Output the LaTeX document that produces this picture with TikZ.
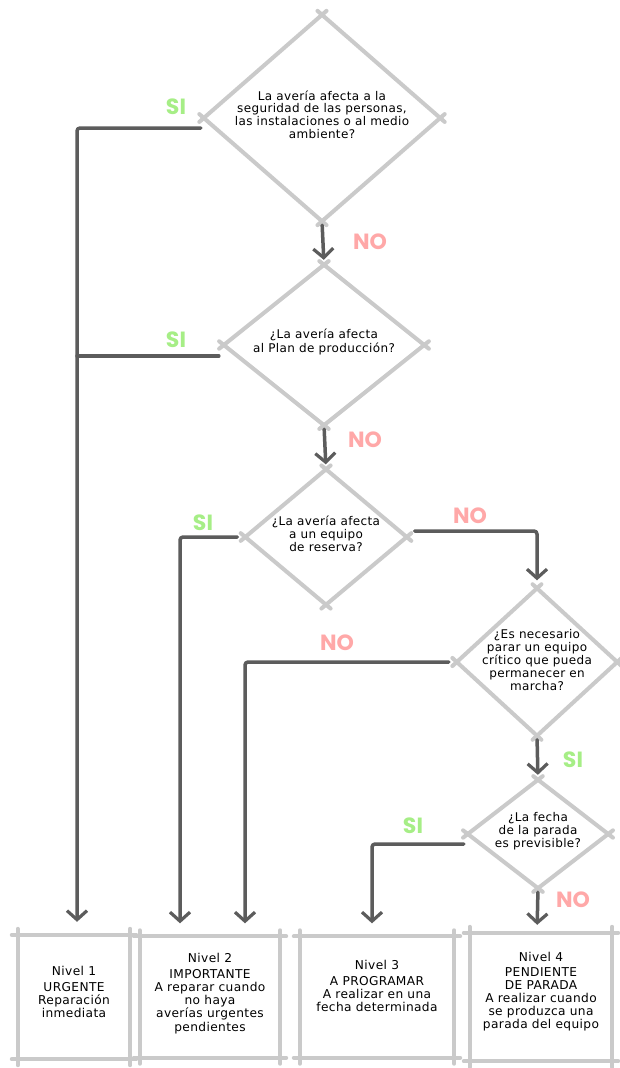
\documentclass[tikz,border=0pt]{standalone}
\usepackage{fontspec}
\setmainfont{DejaVu Sans}[LetterSpace=3]
\newfontfamily\lblfont{Poppins}
\usetikzlibrary{arrows.meta,calc,shapes.geometric}
\definecolor{skc}{HTML}{CACACA}
\definecolor{lnc}{HTML}{5C5C5C}
\definecolor{sic}{HTML}{A6EE86}
\definecolor{noc}{HTML}{FFA8A8}
\newcommand\tx[2][0pt]{\makebox[0pt][c]{\raisebox{#1}{\smash{\begin{tabular}{@{}c@{}}#2\end{tabular}}}}}
\newcommand\skdia[1]{%
  \draw[skl] (#1.north) -- (#1.east);
  \draw[skl] (#1.east) -- (#1.south);
  \draw[skl] (#1.south) -- (#1.west);
  \draw[skl] (#1.west) -- (#1.north);}
\newcommand\skbox[1]{%
  \draw[skl] (#1.north west) -- (#1.north east);
  \draw[skl] (#1.north east) -- (#1.south east);
  \draw[skl] (#1.south east) -- (#1.south west);
  \draw[skl] (#1.south west) -- (#1.north west);}
\tikzset{
  dia/.style={diamond, draw=none, inner sep=0pt, font=\fontsize{12}{12.7}\selectfont},
  lvbox/.style={rectangle, draw=none, inner sep=0pt, font=\fontsize{12.2}{12.6}\selectfont},
  skl/.style={draw=skc, line width=4pt, line cap=round, shorten <=-6pt, shorten >=-6pt},
  conn/.style={draw=lnc, line width=3.5pt, line cap=round, line join=round, rounded corners=3pt,
     -{Straight Barb[length=9pt,width=20pt,line width=3.2pt]}},
  cline/.style={draw=lnc, line width=3.5pt, line cap=round},
  silbl/.style={text=sic, font=\lblfont\bfseries\fontsize{22}{22}\selectfont},
  nolbl/.style={text=noc, font=\lblfont\bfseries\fontsize{22}{22}\selectfont},
}
\begin{document}
\begin{tikzpicture}[x=1pt,y=-1pt]
\useasboundingbox[fill=white] (0,0) rectangle (619,1068);
% diamonds
\node[dia, minimum width=236pt, minimum height=206pt] (d1) at (322,118)
  {\tx[-3pt]{La avería afecta a la\\seguridad de las personas,\\las instalaciones o al medio\\ambiente?}};
\node[dia, minimum width=200pt, minimum height=160pt] (d2) at (324,345)
  {\tx[-1pt]{¿La avería afecta\\al Plan de producción?}};
\node[dia, minimum width=161pt, minimum height=135pt] (d3) at (326,537)
  {\tx[-4pt]{¿La avería afecta\\a un equipo\\de reserva?}};
\node[dia, minimum width=160pt, minimum height=147pt] (d4) at (537,662)
  {\tx[-5pt]{¿Es necesario\\parar un equipo\\crítico que pueda\\permanecer en\\marcha?}};
\node[dia, minimum width=140pt, minimum height=108pt] (d5) at (538,834)
  {\tx[-1pt]{¿La fecha\\de la parada\\es previsible?}};
% boxes
\node[lvbox, minimum width=112pt, minimum height=124pt] (b1) at (74,997)
  {\tx{Nivel 1\\[3pt]URGENTE\\Reparación\\inmediata}};
\node[lvbox, minimum width=140pt, minimum height=121pt] (b2) at (210,997)
  {\tx{Nivel 2\\[3pt]IMPORTANTE\\A reparar cuando\\no haya\\averías urgentes\\pendientes}};
\node[lvbox, minimum width=154pt, minimum height=121pt] (b3) at (377,997)
  {\tx[12pt]{Nivel 3\\[3pt]A PROGRAMAR\\A realizar en una\\fecha determinada}};
\node[lvbox, minimum width=142pt, minimum height=128pt] (b4) at (541,997)
  {\tx[4pt]{Nivel 4\\[3pt]PENDIENTE\\DE PARADA\\A realizar cuando\\se produzca una\\parada del equipo}};
\skdia{d1}\skdia{d2}\skdia{d3}\skdia{d4}\skdia{d5}
\skbox{b1}\skbox{b2}\skbox{b3}\skbox{b4}
\coordinate (b1a) at ([xshift=3pt]b1.north);
\coordinate (b2a) at ([xshift=-30pt]b2.north);
\coordinate (b2b) at ([xshift=35pt]b2.north);
\coordinate (b3a) at ([xshift=-5pt]b3.north);
\coordinate (b4a) at ([xshift=-4pt]b4.north);
\coordinate (d1w) at ([yshift=-10pt]d1.west);
\coordinate (d2w) at ([yshift=-11pt]d2.west);
\coordinate (d3e) at ([yshift=6pt]d3.east);
\coordinate (d5w) at ([yshift=-10pt]d5.west);
% connectors
\draw[conn, shorten <=3pt, shorten >=13pt] (d1w) -| (b1a);
\draw[cline, shorten <=5pt] (d2w) -- (d2w -| b1a);
\draw[conn, shorten <=4pt, shorten >=5pt] (d1.south) -- (d2.north);
\draw[conn, shorten <=4pt, shorten >=5pt] (d2.south) -- (d3.north);
\draw[conn, shorten <=8pt, shorten >=13pt] (d3.west) -| (b2a);
\draw[conn, shorten <=8pt, shorten >=8pt] (d3e) -| (d4.north);
\draw[conn, shorten <=8pt, shorten >=13pt] (d4.west) -| (b2b);
\draw[conn, shorten <=4pt, shorten >=5pt] (d4.south) -- (d5.north);
\draw[conn, shorten <=4pt, shorten >=13pt] (d5w) -| (b3a);
\draw[conn, shorten <=4pt, shorten >=8pt] (d5.south) -- (b4a);
% labels
\node[silbl] (s1) at (176,107) {SI};
\node[silbl] (s2) at (176,340) {SI};
\node[silbl] (s3) at (203,523) {SI};
\node[silbl] (s4) at (573,760) {SI};
\node[silbl] (s5) at (413,826) {SI};
\node[nolbl] (n1) at (370,242) {NO};
\node[nolbl] (n2) at (365,440) {NO};
\node[nolbl] (n3) at (470,516) {NO};
\node[nolbl] (n4) at (337,643) {NO};
\node[nolbl] (n5) at (573,900) {NO};
\end{tikzpicture}
\end{document}
